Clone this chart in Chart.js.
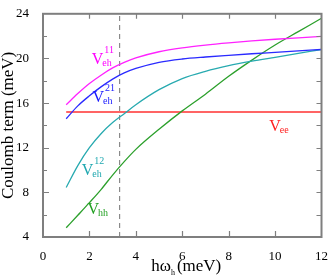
<!DOCTYPE html>
<html>
<head>
<meta charset="utf-8">
<script src="https://cdn.jsdelivr.net/npm/chart.js@4"></script>
<style>
  html, body { margin: 0; padding: 0; background: #fff; }
  #wrap { width: 332px; height: 277px; }
</style>
</head>
<body>
<div id="wrap"><canvas id="coulombChart" width="332" height="277"></canvas></div>
<script>
// x values (h omega_h, meV)
var hw = [1, 1.5, 2, 2.5, 3, 3.5, 4, 5, 6, 7, 8, 9, 10, 11, 12];

// Coulomb terms (meV)
var veh11 = [15.85, 16.85, 17.75, 18.5, 19.15, 19.65, 20.05, 20.6, 20.95, 21.2, 21.4, 21.57, 21.72, 21.85, 21.97];
var veh21 = [14.6, 15.75, 16.65, 17.45, 18.15, 18.7, 19.1, 19.65, 19.95, 20.13, 20.28, 20.42, 20.55, 20.68, 20.8];
var veh12 = [8.44, 10.4, 12.0, 13.25, 14.25, 15.05, 15.85, 17.2, 18.2, 18.85, 19.35, 19.75, 20.1, 20.45, 20.8];
var vhh = [4.83, 5.95, 7.08, 8.25, 9.55, 10.75, 11.85, 13.65, 15.3, 16.8, 18.4, 19.85, 21.2, 22.4, 23.6];
var vee = [15.2, 15.2, 15.2, 15.2, 15.2, 15.2, 15.2, 15.2, 15.2, 15.2, 15.2, 15.2, 15.2, 15.2, 15.2];

var dashX = 3.3;  // vertical marker position
var xTicks = [0, 2, 4, 6, 8, 10, 12];
var yTicks = [4, 8, 12, 16, 20, 24];

// curve labels: [main, sub, sup, color, x, y]
var curveLabels = [
    ['V', 'eh', '11', '#ff00ff', 2.1, 19.5],
    ['V', 'eh', '21', '#1a1aff', 2.13, 16.1],
    ['V', 'eh', '12', '#20a8b0', 1.67, 9.55],
    ['V', 'hh', '', '#22a022', 1.92, 6.1],
    ['V', 'ee', '', '#ff2020', 9.75, 13.5]
];

var serif = '"Liberation Serif", "DejaVu Serif", serif';
var frameColor = '#7f7f7f';

function toPoints(ys) {
    return ys.map(function (y, i) { return { x: hw[i], y: y }; });
}

function series(ys, color) {
    return {
        data: toPoints(ys),
        borderColor: color,
        borderWidth: 1.3,
        pointRadius: 0,
        cubicInterpolationMode: 'monotone',
        fill: false
    };
}

// Draws frame, inside ticks, titles and curve labels
var decorations = {
    id: 'decorations',
    afterDatasetsDraw: function (chart) {
        var ctx = chart.ctx;
        var a = chart.chartArea;
        var xs = chart.scales.x, ys = chart.scales.y;
        ctx.save();

        // frame
        ctx.strokeStyle = frameColor;
        ctx.lineWidth = 2;
        ctx.strokeRect(a.left, a.top, a.right - a.left, a.bottom - a.top);

        // ticks
        ctx.lineWidth = 1.2;
        ctx.beginPath();
        for (var v = 2; v < 12; v += 2) {
            var px = Math.round(xs.getPixelForValue(v)) + 0.5;
            ctx.moveTo(px, a.bottom); ctx.lineTo(px, a.bottom - 6);
            ctx.moveTo(px, a.top); ctx.lineTo(px, a.top + 5);
        }
        for (var w = 6; w < 24; w += 2) {
            var py = Math.round(ys.getPixelForValue(w)) + 0.5;
            var len = (w % 4 === 0) ? 6 : 4;
            ctx.moveTo(a.left, py); ctx.lineTo(a.left + len, py);
            ctx.moveTo(a.right, py); ctx.lineTo(a.right - 5, py);
        }
        ctx.stroke();

        // y title
        ctx.fillStyle = '#000';
        ctx.font = '17px ' + serif;
        ctx.textAlign = 'center';
        ctx.textBaseline = 'middle';
        ctx.save();
        ctx.translate(9, (a.top + a.bottom) / 2);
        ctx.rotate(-Math.PI / 2);
        ctx.fillText('Coulomb term (meV)', 0, 0);
        ctx.restore();

        // x title with subscript
        ctx.textAlign = 'left';
        ctx.textBaseline = 'alphabetic';
        var p1 = 'h\u03c9', p2 = 'h', p3 = '(meV)';
        ctx.font = '17px ' + serif;
        var w1 = ctx.measureText(p1).width, w3 = ctx.measureText(p3).width;
        ctx.font = '8px ' + serif;
        var w2 = ctx.measureText(p2).width;
        var total = w1 + w2 + 2 + w3;
        var sx = (a.left + a.right) / 2 - total / 2 + 4;
        var base = 271;
        ctx.font = '17px ' + serif;
        ctx.fillText(p1, sx, base);
        ctx.font = '8px ' + serif;
        ctx.fillText(p2, sx + w1, base + 4);
        ctx.font = '17px ' + serif;
        ctx.fillText(p3, sx + w1 + w2 + 2, base);

        // curve labels
        curveLabels.forEach(function (l) {
            var lx = xs.getPixelForValue(l[4]);
            var ly = ys.getPixelForValue(l[5]);
            ctx.fillStyle = l[3];
            ctx.font = '16px ' + serif;
            ctx.fillText(l[0], lx, ly);
            var vw = ctx.measureText(l[0]).width;
            ctx.font = '10px ' + serif;
            ctx.fillText(l[1], lx + vw - 1, ly + 2);
            if (l[2]) ctx.fillText(l[2], lx + vw + 1, ly - 11);
        });

        ctx.restore();
    }
};

var ctx = document.getElementById('coulombChart').getContext('2d');
var myChart = new Chart(ctx, {
    type: 'line',
    data: {
        datasets: [
            series(veh11, '#ff22ff'),
            series(veh21, '#2a2aff'),
            series(veh12, '#28aab0'),
            series(vhh, '#2ca02c'),
            series(vee, '#ff3030'),
            {
                data: [{ x: dashX, y: 4 }, { x: dashX, y: 24 }],
                borderColor: '#8a8a8a',
                borderWidth: 1.2,
                borderDash: [5, 4],
                pointRadius: 0,
                fill: false
            }
        ]
    },
    options: {
        responsive: false,
        animation: false,
        layout: { padding: { top: 5, right: 9, left: 0, bottom: 0 } },
        plugins: { legend: { display: false }, tooltip: { enabled: false } },
        scales: {
            x: {
                type: 'linear',
                min: 0, max: 12,
                afterBuildTicks: function (s) { s.ticks = xTicks.map(function (v) { return { value: v }; }); },
                afterFit: function (s) { s.height = 40; },
                grid: { display: false },
                border: { display: false },
                ticks: { color: '#000', padding: 4, maxRotation: 0, font: { family: serif, size: 13 } }
            },
            y: {
                min: 4, max: 24,
                afterBuildTicks: function (s) { s.ticks = yTicks.map(function (v) { return { value: v }; }); },
                afterFit: function (s) { s.width = 43; },
                grid: { display: false },
                border: { display: false },
                ticks: { color: '#000', padding: 6, font: { family: serif, size: 13 } }
            }
        }
    },
    plugins: [decorations]
});
</script>
</body>
</html>
